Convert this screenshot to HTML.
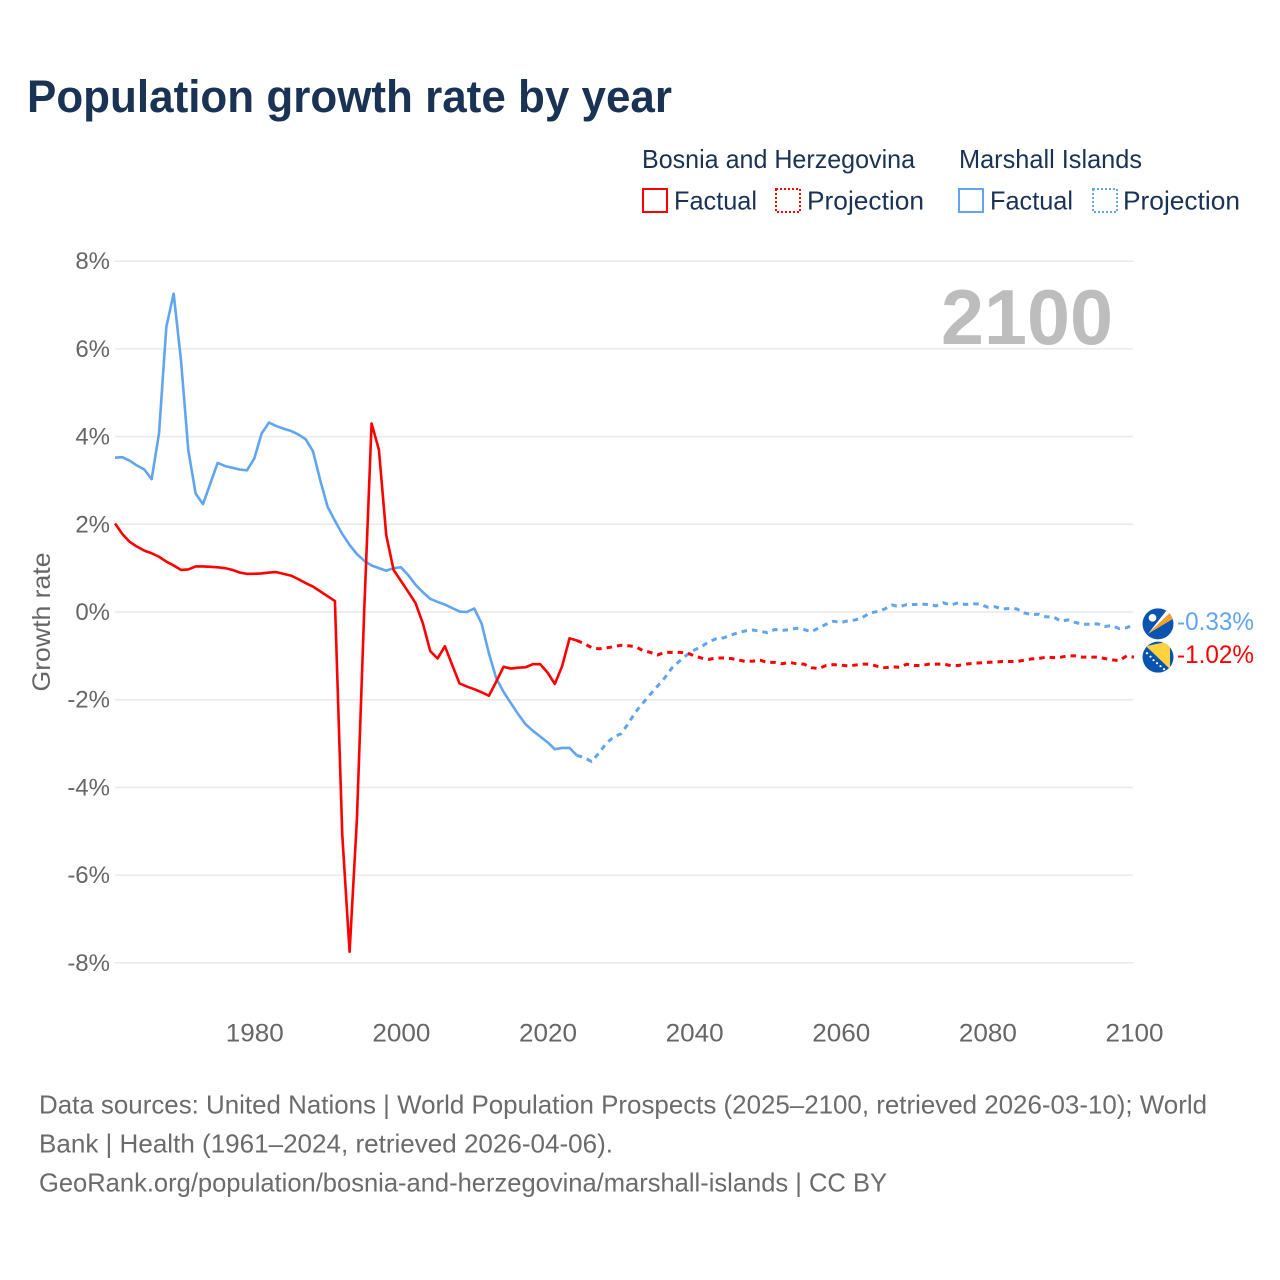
<!DOCTYPE html>
<html lang="en">
<head>
<meta charset="utf-8">
<title>Population growth rate by year</title>
<style>
html,body{margin:0;padding:0;background:#fff;}
svg{display:block;font-family:"Liberation Sans",sans-serif;}
</style>
</head>
<body>
<svg id="chart" xmlns="http://www.w3.org/2000/svg" width="1280" height="1280" viewBox="0 0 1280 1280">
  <rect x="0" y="0" width="1280" height="1280" fill="#ffffff"/>
  <text x="27" y="112" font-size="45" font-weight="700" fill="#1a3354" textLength="645" lengthAdjust="spacingAndGlyphs">Population growth rate by year</text>

  <g font-size="26" fill="#1a3354">
    <text x="642" y="168" textLength="273" lengthAdjust="spacingAndGlyphs">Bosnia and Herzegovina</text>
    <text x="959" y="168" textLength="183" lengthAdjust="spacingAndGlyphs">Marshall Islands</text>
    <rect x="643" y="189" width="24" height="23" fill="none" stroke="#ff0000" stroke-width="2"/>
    <text x="674" y="209.5" textLength="83" lengthAdjust="spacingAndGlyphs">Factual</text>
    <rect x="776" y="189" width="24" height="23" fill="none" stroke="#ff0000" stroke-width="2" stroke-dasharray="2,2"/>
    <text x="807" y="209.5" textLength="117" lengthAdjust="spacingAndGlyphs">Projection</text>
    <rect x="959" y="189" width="24" height="23" fill="none" stroke="#60a5ee" stroke-width="2"/>
    <text x="990" y="209.5" textLength="83" lengthAdjust="spacingAndGlyphs">Factual</text>
    <rect x="1093" y="189" width="24" height="23" fill="none" stroke="#60a5ee" stroke-width="2" stroke-dasharray="2,2"/>
    <text x="1123" y="209.5" textLength="117" lengthAdjust="spacingAndGlyphs">Projection</text>
  </g>

  <g id="grid"></g>
  <g id="y-labels" font-size="24" fill="#666666" text-anchor="end"></g>
  <g id="x-labels" font-size="25" fill="#666666" text-anchor="middle"></g>
  <text transform="translate(50,622) rotate(-90)" font-size="25" fill="#666666" text-anchor="middle" textLength="139" lengthAdjust="spacingAndGlyphs">Growth rate</text>
  <text x="941" y="344" font-size="78" font-weight="700" fill="#bdbdbd" textLength="172" lengthAdjust="spacingAndGlyphs">2100</text>

  <g id="series"></g>

  <defs>
    <clipPath id="flag-clip"><circle cx="0" cy="0" r="15.5"/></clipPath>
  </defs>
  <g id="flag-marshall">
    <g clip-path="url(#flag-clip)">
      <rect x="-16" y="-16" width="32" height="32" fill="#0a54b0"/>
      <polygon points="-10,10 9,-14 12,-11" fill="#ffffff"/>
      <polygon points="-10,10 12,-11 15,-5" fill="#f7a02e"/>
      <circle cx="-5.5" cy="-6" r="3.8" fill="#ffffff"/>
    </g>
  </g>
  <g id="flag-bosnia">
    <g clip-path="url(#flag-clip)">
      <rect x="-16" y="-16" width="32" height="32" fill="#0a54b0"/>
      <polygon points="-12,-11 12,-16 12,12" fill="#ffd23f"/>
      <g fill="#ffffff">
        <circle cx="-11" cy="-4" r="1.1"/>
        <circle cx="-7.5" cy="-0.5" r="1.1"/>
        <circle cx="-4.5" cy="3" r="1.1"/>
        <circle cx="-1" cy="6" r="1.1"/>
        <circle cx="2.5" cy="9" r="1.1"/>
        <circle cx="6" cy="12" r="1.1"/>
      </g>
    </g>
  </g>
  <text id="label-marshall" x="1177" font-size="25" fill="#60a5ee" textLength="77" lengthAdjust="spacingAndGlyphs"></text>
  <text id="label-bosnia" x="1177" font-size="25" fill="#ff0000" textLength="77" lengthAdjust="spacingAndGlyphs"></text>

  <g font-size="26" fill="#6b6b6b">
    <text x="39" y="1113.5" textLength="1168" lengthAdjust="spacingAndGlyphs">Data sources: United Nations | World Population Prospects (2025–2100, retrieved 2026-03-10); World</text>
    <text x="39" y="1152.5" textLength="574" lengthAdjust="spacingAndGlyphs">Bank | Health (1961–2024, retrieved 2026-04-06).</text>
    <text x="39" y="1191.5" textLength="848" lengthAdjust="spacingAndGlyphs">GeoRank.org/population/bosnia-and-herzegovina/marshall-islands | CC BY</text>
  </g>
</svg>

<script>
const yTicks = [8, 6, 4, 2, 0, -2, -4, -6, -8];
const xTicks = [1980, 2000, 2020, 2040, 2060, 2080, 2100];

const factualYears = [1961,1962,1963,1964,1965,1966,1967,1968,1969,1970,1971,1972,1973,1974,1975,1976,1977,1978,1979,1980,1981,1982,1983,1984,1985,1986,1987,1988,1989,1990,1991,1992,1993,1994,1995,1996,1997,1998,1999,2000,2001,2002,2003,2004,2005,2006,2007,2008,2009,2010,2011,2012,2013,2014,2015,2016,2017,2018,2019,2020,2021,2022,2023,2024];
const projectionYears = [2024,2025,2026,2027,2028,2029,2030,2031,2032,2033,2034,2035,2036,2037,2038,2039,2040,2041,2042,2043,2044,2045,2046,2047,2048,2049,2050,2051,2052,2053,2054,2055,2056,2057,2058,2059,2060,2061,2062,2063,2064,2065,2066,2067,2068,2069,2070,2071,2072,2073,2074,2075,2076,2077,2078,2079,2080,2081,2082,2083,2084,2085,2086,2087,2088,2089,2090,2091,2092,2093,2094,2095,2096,2097,2098,2099,2100];

const bosniaFactual = [2.02,1.78,1.60,1.49,1.40,1.34,1.26,1.15,1.06,0.96,0.97,1.04,1.04,1.03,1.02,1.00,0.96,0.90,0.87,0.87,0.88,0.90,0.91,0.87,0.83,0.75,0.66,0.58,0.47,0.36,0.25,-5.08,-7.75,-4.72,0.05,4.30,3.70,1.75,0.96,0.71,0.46,0.20,-0.26,-0.89,-1.06,-0.78,-1.21,-1.63,-1.70,-1.76,-1.83,-1.91,-1.59,-1.25,-1.29,-1.27,-1.26,-1.19,-1.19,-1.38,-1.64,-1.23,-0.60,-0.65];
const marshallFactual = [3.52,3.53,3.45,3.34,3.25,3.03,4.07,6.50,7.26,5.74,3.69,2.70,2.46,2.93,3.40,3.33,3.29,3.25,3.23,3.50,4.07,4.32,4.24,4.18,4.13,4.05,3.94,3.67,3.00,2.40,2.08,1.78,1.53,1.32,1.17,1.06,1.00,0.94,1.00,1.02,0.84,0.62,0.45,0.30,0.23,0.17,0.09,0.01,0.00,0.08,-0.26,-0.94,-1.51,-1.82,-2.08,-2.33,-2.56,-2.71,-2.84,-2.97,-3.13,-3.10,-3.10,-3.27];
const bosniaProjection = [-0.65,-0.72,-0.81,-0.84,-0.82,-0.79,-0.76,-0.77,-0.79,-0.88,-0.92,-0.98,-0.92,-0.92,-0.92,-0.93,-1.00,-1.05,-1.08,-1.05,-1.05,-1.06,-1.09,-1.13,-1.12,-1.10,-1.15,-1.15,-1.18,-1.15,-1.18,-1.19,-1.27,-1.29,-1.22,-1.20,-1.21,-1.23,-1.21,-1.19,-1.19,-1.24,-1.27,-1.25,-1.26,-1.19,-1.22,-1.22,-1.19,-1.19,-1.19,-1.22,-1.22,-1.19,-1.17,-1.16,-1.15,-1.14,-1.13,-1.13,-1.13,-1.10,-1.07,-1.06,-1.03,-1.04,-1.03,-1.00,-1.00,-1.03,-1.03,-1.03,-1.06,-1.09,-1.11,-1.00,-1.03];
const marshallProjection = [-3.27,-3.32,-3.41,-3.22,-3.00,-2.85,-2.78,-2.55,-2.28,-2.08,-1.88,-1.69,-1.50,-1.27,-1.12,-0.98,-0.87,-0.79,-0.68,-0.61,-0.59,-0.53,-0.47,-0.43,-0.41,-0.44,-0.47,-0.40,-0.42,-0.40,-0.37,-0.40,-0.45,-0.36,-0.28,-0.21,-0.24,-0.20,-0.18,-0.12,-0.02,0.01,0.07,0.16,0.12,0.17,0.17,0.18,0.17,0.14,0.21,0.16,0.21,0.17,0.19,0.18,0.11,0.12,0.07,0.08,0.07,-0.02,-0.06,-0.05,-0.11,-0.11,-0.21,-0.18,-0.24,-0.28,-0.28,-0.27,-0.33,-0.31,-0.38,-0.36,-0.27];

const endLabelMarshall = "-0.33%";
const endLabelBosnia = "-1.02%";

const NS = "http://www.w3.org/2000/svg";
const RED = "#ff0000";
const BLUE = "#60a5ee";

function xScale(year) { return 115 + (year - 1961) * (1134 - 115) / (2100 - 1961); }
function yScale(value) { return 612 - value * 43.85; }

const gridGroup = document.getElementById("grid");
const yLabelGroup = document.getElementById("y-labels");
const xLabelGroup = document.getElementById("x-labels");
const seriesGroup = document.getElementById("series");

yTicks.forEach(function (t) {
  const line = document.createElementNS(NS, "line");
  
  
  line.setAttribute("x1", 115);
  line.setAttribute("x2", 1133);
  line.setAttribute("y1", yScale(t));
  line.setAttribute("y2", yScale(t));
  line.setAttribute("stroke", "#e9e9e9");
  line.setAttribute("stroke-width", "1.5");
  gridGroup.appendChild(line);

  const label = document.createElementNS(NS, "text");
  
  
  label.setAttribute("x", 110);
  label.setAttribute("y", yScale(t) + 8);
  label.textContent = t + "%";
  yLabelGroup.appendChild(label);
});

xTicks.forEach(function (t) {
  const label = document.createElementNS(NS, "text");
  
  
  label.setAttribute("x", xScale(t) + 0.5);
  label.setAttribute("y", 1041.5);
  label.setAttribute("textLength", 58);
  label.setAttribute("lengthAdjust", "spacingAndGlyphs");
  label.textContent = t;
  xLabelGroup.appendChild(label);
});

function linePath(years, values) {
  return values.map(function (v, i) {
    return (i ? "L" : "M") + xScale(years[i]).toFixed(2) + " " + yScale(v).toFixed(2);
  }).join("");
}

function drawLine(name, years, values, color, dashed) {
  const path = document.createElementNS(NS, "path");
  
  
  path.setAttribute("d", linePath(years, values));
  path.setAttribute("fill", "none");
  path.setAttribute("stroke", color);
  path.setAttribute("stroke-width", dashed ? "3" : "2.6");
  path.setAttribute("stroke-linejoin", "round");
  if (dashed) path.setAttribute("stroke-dasharray", "5.5,5");
  seriesGroup.appendChild(path);
}

drawLine("marshall-islands-factual-line", factualYears, marshallFactual, BLUE, false);
drawLine("marshall-islands-projection-line", projectionYears, marshallProjection, BLUE, true);
drawLine("bosnia-factual-line", factualYears, bosniaFactual, RED, false);
drawLine("bosnia-projection-line", projectionYears, bosniaProjection, RED, true);

const marshallEndY = yScale(marshallProjection[marshallProjection.length - 1]);
const bosniaEndY = yScale(bosniaProjection[bosniaProjection.length - 1]);
document.getElementById("flag-marshall").setAttribute("transform", "translate(1158," + marshallEndY.toFixed(2) + ")");
document.getElementById("flag-bosnia").setAttribute("transform", "translate(1158," + bosniaEndY.toFixed(2) + ")");
const labelMarshall = document.getElementById("label-marshall");
labelMarshall.setAttribute("y", (marshallEndY + 6).toFixed(2));
labelMarshall.textContent = endLabelMarshall;
const labelBosnia = document.getElementById("label-bosnia");
labelBosnia.setAttribute("y", (bosniaEndY + 6).toFixed(2));
labelBosnia.textContent = endLabelBosnia;
</script>
</body>
</html>
